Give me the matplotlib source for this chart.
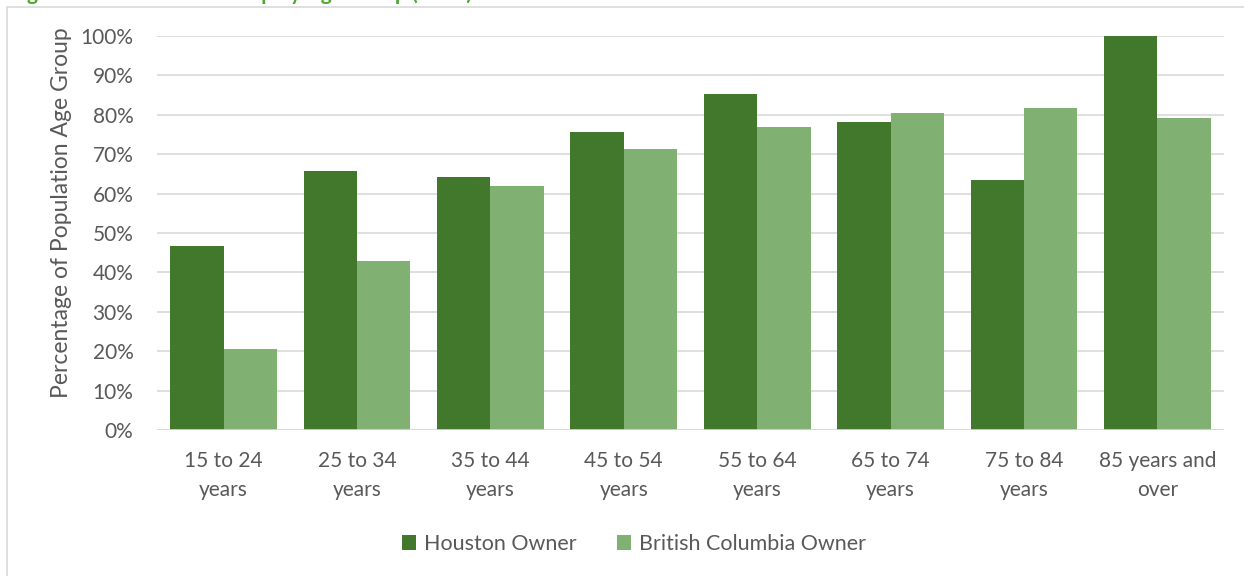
import matplotlib
matplotlib.use("Agg")
import matplotlib.pyplot as plt
from matplotlib.patches import Rectangle
import numpy as np

categories = ["15 to 24\nyears", "25 to 34\nyears", "35 to 44\nyears", "45 to 54\nyears",
              "55 to 64\nyears", "65 to 74\nyears", "75 to 84\nyears", "85 years and\nover"]
houston = [46.7, 65.7, 64.2, 75.6, 85.3, 78.2, 63.5, 100.0]
bc = [20.6, 42.9, 61.9, 71.3, 76.9, 80.5, 81.7, 79.2]
series_names = ["Houston Owner", "British Columbia Owner"]
yticks = [0, 10, 20, 30, 40, 50, 60, 70, 80, 90, 100]

plt.rcParams['font.family'] = ['Lato', 'DejaVu Sans']
W, H = 1244, 576
fig = plt.figure(figsize=(W/100, H/100), dpi=100)
ax = fig.add_axes([157/W, 1-430/H, (1224-157)/W, (430-36)/H])

dark = "#41782B"
light = "#80B072"
txt = "#595959"

x = np.arange(len(categories))
bw = 0.4
ax.bar(x - bw/2, houston, bw, color=dark, label=series_names[0], zorder=3)
ax.bar(x + bw/2, bc, bw, color=light, label=series_names[1], zorder=3)

ax.set_xlim(-0.5, len(categories) - 0.5)
ax.set_ylim(0, 100)
ax.set_yticks(yticks)
ax.set_yticklabels([f"{v}%" for v in yticks])
ax.set_xticks(x)
ax.set_xticklabels(categories)
ax.tick_params(axis='both', length=0, labelsize=15, colors=txt)
ax.tick_params(axis='y', pad=17)
ax.tick_params(axis='x', pad=15)
for lbl in ax.get_xticklabels():
    lbl.set_linespacing(1.55)
ax.grid(axis='y', color="#D9D9D9", linewidth=1.2, zorder=0)
for s in ax.spines.values():
    s.set_visible(False)
ax.axhline(0, color="#D9D9D9", linewidth=1.2, zorder=4)

fig.text(62/W, 1-213/H, "Percentage of Population Age Group", rotation=90,
         ha='center', va='center', fontsize=16.5, color=txt)

leg = fig.legend(loc='center', bbox_to_anchor=(634/W, 1-544/H), ncol=2, frameon=False,
                 fontsize=15.5, handlelength=0.65, handleheight=0.65, columnspacing=1.9,
                 handletextpad=0.35)
for t in leg.get_texts():
    t.set_color(txt)

# chart border
fig.patches.append(Rectangle((7/W, -0.05), 1.1, 1 - 7/H + 0.05, transform=fig.transFigure,
                             fill=False, edgecolor="#D9D9D9", linewidth=1.2))

# cropped title (partially outside the figure, as in the reference)
fig.text(10/W, 1.0, "Figure 11: Home Ownership by Age Group (2016)", ha='left', va='baseline',
         fontsize=15, fontweight='bold', color="#4EA72E")

fig.savefig("out.png", dpi=100)
